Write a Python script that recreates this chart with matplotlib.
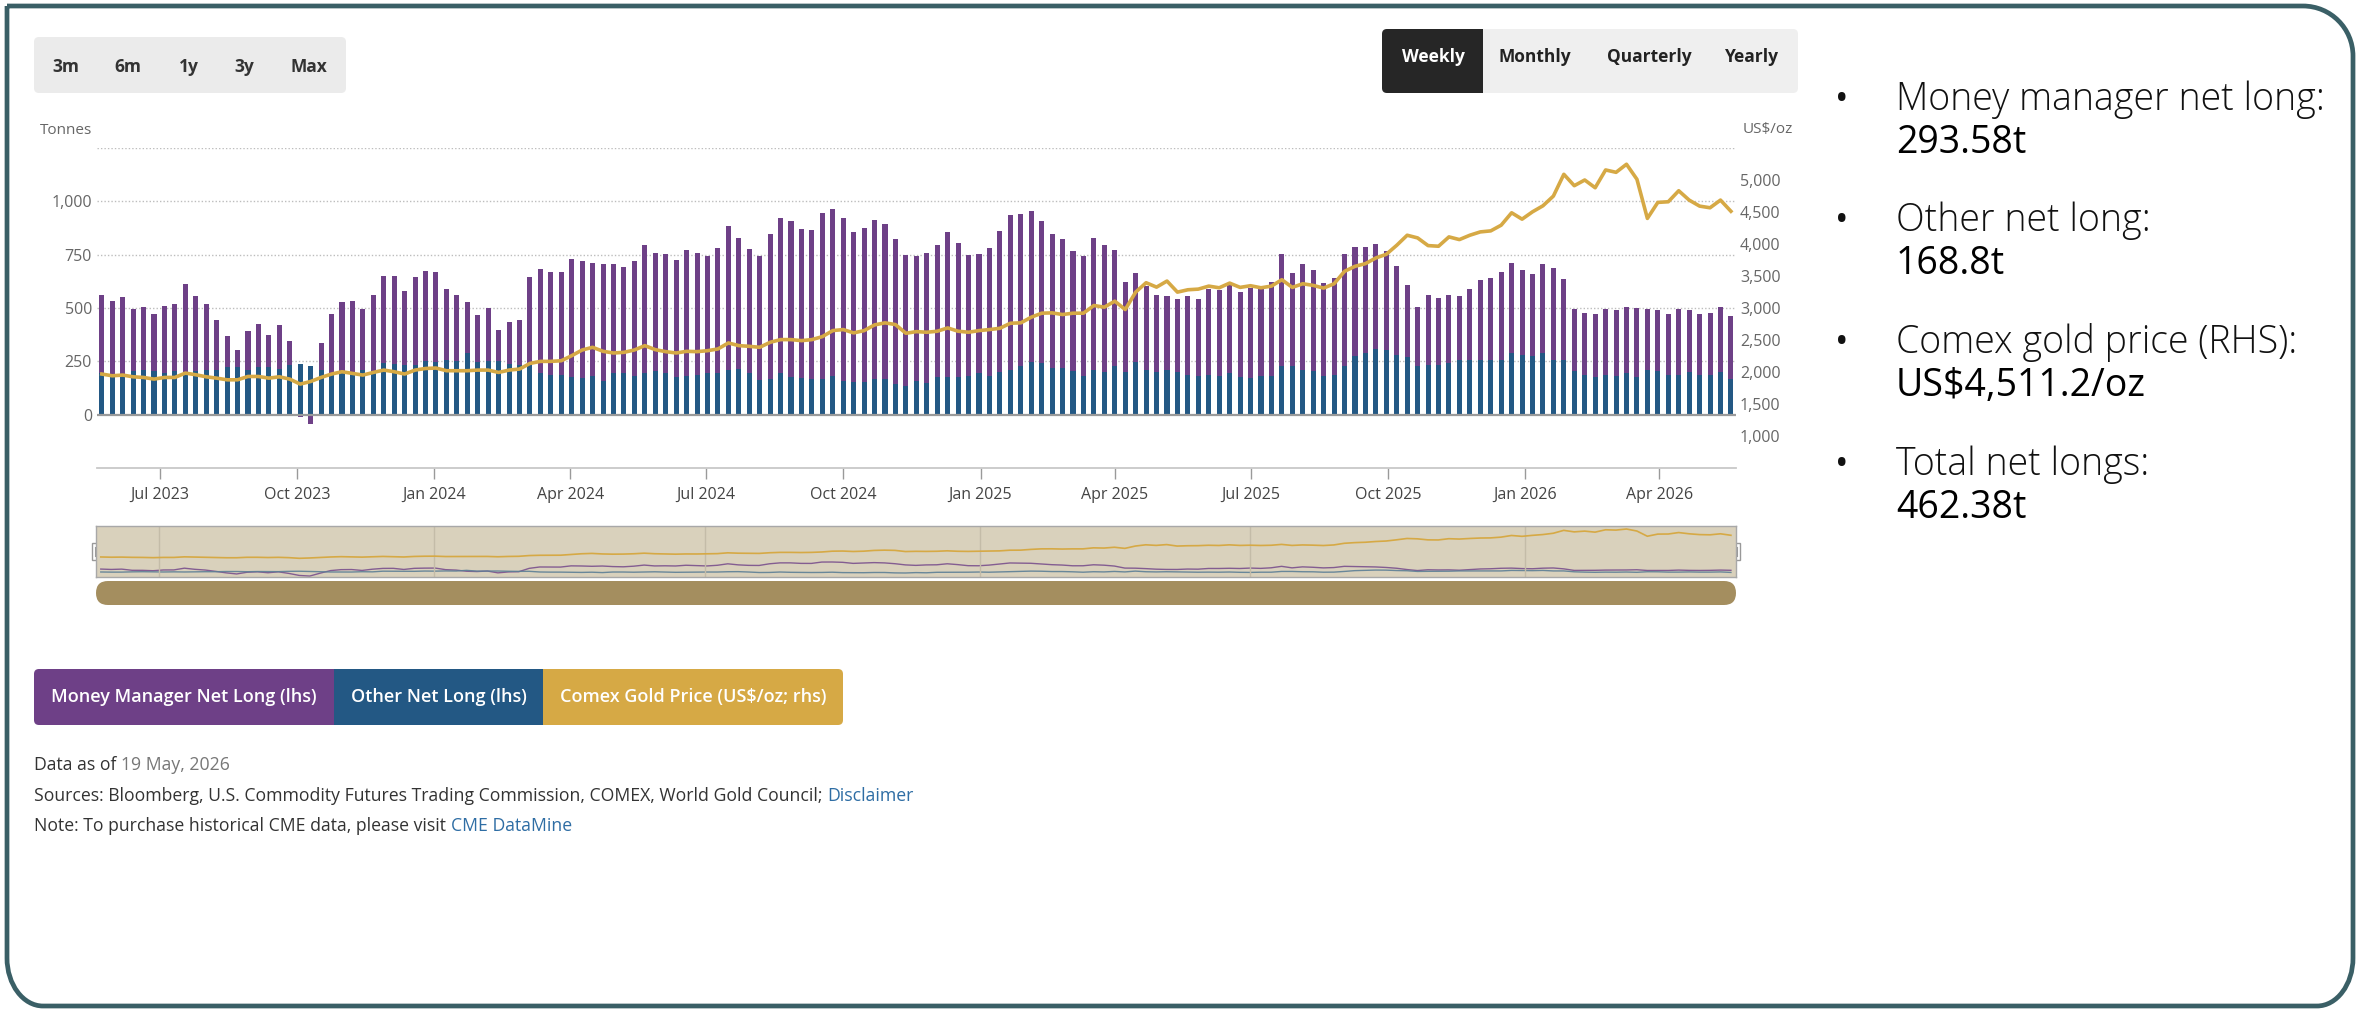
import matplotlib
matplotlib.use('Agg')
import matplotlib.pyplot as plt
import matplotlib.dates as mdates
from matplotlib.patches import FancyBboxPatch, Rectangle, PathPatch
from matplotlib.path import Path
from matplotlib.ticker import FuncFormatter
import numpy as np
import pandas as pd

plt.rcParams['font.family'] = ['Open Sans', 'DejaVu Sans']

# weekly COT report dates (Tuesdays)
weeks = pd.date_range('2023-05-23', '2026-05-19', freq='7D')

# Money manager net long (t)
mm_net = [367, 344, 363, 294, 292, 270, 313, 317, 419, 352,
          309, 231, 144, 79, 180, 205, 151, 204, 111, -9,
          -44, 126, 278, 332, 339, 286, 359, 406, 409, 344,
          410, 422, 425, 332, 307, 239, 221, 250, 144, 198,
          211, 409, 489, 484, 484, 555, 548, 530, 546, 513,
          500, 536, 601, 551, 559, 548, 591, 570, 550, 589,
          676, 614, 584, 579, 678, 731, 731, 701, 699, 779,
          782, 763, 701, 724, 746, 729, 682, 612, 584, 611,
          618, 678, 629, 566, 561, 600, 661, 725, 714, 707,
          667, 625, 603, 560, 561, 619, 595, 544, 424, 419,
          393, 360, 345, 343, 368, 360, 402, 401, 413, 400,
          425, 407, 441, 527, 438, 496, 472, 436, 455, 527,
          514, 497, 491, 461, 415, 338, 279, 325, 314, 319,
          298, 332, 372, 385, 413, 423, 396, 385, 419, 431,
          379, 288, 291, 294, 307, 307, 313, 326, 284, 283,
          285, 307, 290, 285, 291, 307, 293.58]

# Other net long (t)
other_net = [195, 187, 187, 203, 211, 203, 195, 203, 195, 203,
             211, 211, 223, 223, 211, 222, 222, 216, 233, 239,
             227, 211, 195, 195, 192, 211, 203, 242, 239, 234,
             234, 250, 245, 257, 252, 291, 246, 252, 252, 238,
             231, 234, 195, 187, 187, 176, 170, 182, 160, 193,
             193, 182, 193, 206, 193, 176, 182, 187, 193, 193,
             210, 215, 193, 164, 168, 193, 176, 170, 165, 168,
             182, 159, 153, 153, 165, 165, 142, 136, 159, 148,
             176, 176, 176, 182, 193, 182, 199, 210, 227, 246,
             240, 221, 221, 206, 182, 210, 199, 227, 199, 246,
             210, 199, 210, 199, 187, 182, 187, 182, 193, 176,
             170, 182, 182, 227, 227, 210, 206, 182, 187, 227,
             274, 291, 308, 304, 280, 268, 227, 234, 234, 240,
             257, 257, 257, 257, 257, 287, 280, 274, 287, 257,
             257, 206, 187, 176, 187, 182, 193, 176, 210, 206,
             187, 187, 199, 187, 187, 199, 168.8]

# Comex gold price (US$/oz, rhs)
gold = [1968, 1941, 1952, 1925, 1915, 1889, 1915, 1915, 1983, 1957,
        1925, 1904, 1878, 1878, 1930, 1930, 1904, 1925, 1889, 1811,
        1852, 1915, 1968, 2004, 1978, 1952, 1993, 2030, 2004, 1968,
        2030, 2055, 2062, 2020, 2020, 2020, 2030, 2030, 1993, 2030,
        2046, 2134, 2166, 2166, 2176, 2255, 2344, 2386, 2323, 2297,
        2307, 2344, 2412, 2349, 2318, 2297, 2323, 2318, 2333, 2360,
        2454, 2412, 2401, 2386, 2464, 2506, 2506, 2490, 2506, 2553,
        2647, 2663, 2611, 2647, 2736, 2768, 2741, 2605, 2631, 2621,
        2637, 2689, 2637, 2621, 2647, 2663, 2683, 2762, 2768, 2856,
        2919, 2924, 2898, 2919, 2919, 3039, 3013, 3107, 2976, 3248,
        3395, 3326, 3421, 3248, 3285, 3295, 3342, 3316, 3389, 3322,
        3348, 3316, 3342, 3442, 3322, 3379, 3353, 3311, 3379, 3573,
        3651, 3693, 3782, 3839, 3980, 4137, 4095, 3975, 3965, 4111,
        4069, 4137, 4189, 4205, 4294, 4488, 4388, 4503, 4597, 4749,
        5089, 4911, 5000, 4879, 5157, 5120, 5246, 5011, 4400, 4650,
        4660, 4832, 4686, 4592, 4566, 4686, 4511.2]

left_ticks = [0, 250, 500, 750, 1000]
right_ticks = [1000, 1500, 2000, 2500, 3000, 3500, 4000, 4500, 5000]
range_buttons = ['3m', '6m', '1y', '3y', 'Max']
freq_buttons = ['Weekly', 'Monthly', 'Quarterly', 'Yearly']
legend_labels = ['Money Manager Net Long (lhs)', 'Other Net Long (lhs)',
                 'Comex Gold Price (US$/oz; rhs)']
side_notes = [('Money manager net long:', '293.58t'),
              ('Other net long:', '168.8t'),
              ('Comex gold price (RHS):', 'US$4,511.2/oz'),
              ('Total net longs:', '462.38t')]

PURPLE = '#6e4087'
BLUE = '#235884'
GOLD = '#d6a945'
TEAL = '#3a5f66'

W, H = 2357, 1011
fig = plt.figure(figsize=(W / 100, H / 100), dpi=100)

# pixel-space overlay for the page furniture
bg = fig.add_axes([0, 0, 1, 1])
bg.set_xlim(0, W)
bg.set_ylim(H, 0)
bg.axis('off')

mm = np.array(mm_net, dtype=float)
oth = np.array(other_net, dtype=float)
xmin = weeks[0] - pd.Timedelta(days=3.2)
xmax = weeks[-1] + pd.Timedelta(days=3.4)

# ---- main chart
ax = fig.add_axes([97 / W, 1 - 468 / H, (1736 - 97) / W, (468 - 148) / H])
ax.set_facecolor('none')
ax.bar(weeks, oth, width=3.4, color=BLUE, zorder=2)
ax.bar(weeks, mm, width=3.4, bottom=np.where(mm >= 0, oth, 0), color=PURPLE, zorder=2)
ax.set_xlim(xmin, xmax)
ax.set_ylim(-250, 1250)
for v in [250, 500, 750, 1000, 1250]:
    ax.axhline(v, color='#bdbdbd', lw=1, ls=(0, (1, 1.5)), zorder=0)
ax.axhline(0, color='#9a9a9a', lw=1.6, zorder=3)
ax.set_yticks(left_ticks)
ax.yaxis.set_major_formatter(FuncFormatter(lambda v, p: f'{v:,.0f}'))
ax.tick_params(axis='y', length=0, pad=3.6, labelsize=11.5, labelcolor='#666666')
ax.xaxis.set_major_locator(mdates.MonthLocator(bymonth=[1, 4, 7, 10]))
ax.xaxis.set_major_formatter(mdates.DateFormatter('%b %Y'))
ax.tick_params(axis='x', length=8, width=1, color='#9a9a9a', pad=5.5,
               labelsize=11.5, labelcolor='#444444')
for s in ['top', 'left', 'right']:
    ax.spines[s].set_visible(False)
ax.spines['bottom'].set_color('#c8c8c8')
ax.spines['bottom'].set_linewidth(1.3)

ax2 = ax.twinx()
ax2.plot(weeks, gold, color=GOLD, lw=2.6, zorder=4)
ax2.set_ylim(500, 5500)
ax2.set_yticks(right_ticks)
ax2.yaxis.set_major_formatter(FuncFormatter(lambda v, p: f'{v:,.0f}'))
ax2.tick_params(axis='y', length=0, pad=2.9, labelsize=11.5, labelcolor='#666666')
for s in ax2.spines.values():
    s.set_visible(False)

bg.text(40, 130, 'Tonnes', fontsize=11, color='#666666', va='center')
bg.text(1793, 130, 'US$/oz', fontsize=11, color='#666666', va='center', ha='right')

# ---- navigator
nav = fig.add_axes([96 / W, 1 - 577 / H, 1640 / W, 51 / H])
nav.set_facecolor('#d9d1bc')
nav.plot(weeks, mm, color=PURPLE, lw=1, alpha=0.8)
nav.plot(weeks, oth, color='#5d7f96', lw=1, alpha=0.9)
nav.set_xlim(xmin, xmax)
nav.set_ylim(-100, 2900)
for d in pd.date_range('2023-07-01', '2026-01-01', freq='6MS'):
    nav.axvline(d, color='#c4bca8', lw=1)
nav.set_xticks([])
nav.set_yticks([])
for s in nav.spines.values():
    s.set_color('#a8a8a8')
    s.set_linewidth(1)
nav2 = nav.twinx()
nav2.plot(weeks, gold, color=GOLD, lw=1.2)
nav2.set_ylim(-380, 5600)
nav2.set_yticks([])
for s in nav2.spines.values():
    s.set_visible(False)

for hx in [96, 1736]:
    bg.add_patch(Rectangle((hx - 4, 543), 8, 17, fc='white', ec='#999999', lw=1, zorder=5))
    bg.plot([hx - 1, hx - 1], [547, 556], color='#999999', lw=0.8, zorder=6)
    bg.plot([hx + 1, hx + 1], [547, 556], color='#999999', lw=0.8, zorder=6)

bg.add_patch(FancyBboxPatch((96, 581), 1640, 24, boxstyle='round,pad=0,rounding_size=12',
                            fc='#a48e5f', ec='none'))

# ---- top buttons
bg.add_patch(FancyBboxPatch((34, 37), 312, 56, boxstyle='round,pad=0,rounding_size=5',
                            fc='#ebebeb', ec='none'))
for lbl, cx in zip(range_buttons, [66, 128, 189, 244, 309]):
    bg.text(cx, 72.5, lbl, ha='center', va='baseline', fontsize=12.5,
            fontweight='bold', color='#333333')

bg.add_patch(FancyBboxPatch((1382, 29), 416, 64, boxstyle='round,pad=0,rounding_size=5',
                            fc='#efefef', ec='none'))
bg.add_patch(FancyBboxPatch((1382, 29), 101, 64, boxstyle='round,pad=0,rounding_size=5',
                            fc='#262626', ec='none'))
bg.add_patch(Rectangle((1472, 29), 11, 64, fc='#262626', ec='none'))
for lbl, cx in zip(freq_buttons, [1433, 1535, 1649, 1752]):
    bg.text(cx, 61.5, lbl, ha='center', va='baseline', fontsize=12.5, fontweight='bold',
            color='white' if lbl == 'Weekly' else '#222222')

# ---- legend
bg.add_patch(FancyBboxPatch((34, 669), 300, 56, boxstyle='round,pad=0,rounding_size=5',
                            fc=PURPLE, ec='none'))
bg.add_patch(Rectangle((320, 669), 14, 56, fc=PURPLE, ec='none'))
bg.add_patch(Rectangle((334, 669), 209, 56, fc=BLUE, ec='none'))
bg.add_patch(FancyBboxPatch((543, 669), 300, 56, boxstyle='round,pad=0,rounding_size=5',
                            fc=GOLD, ec='none'))
bg.add_patch(Rectangle((543, 669), 14, 56, fc=GOLD, ec='none'))
for lbl, cx in zip(legend_labels, [184, 439, 693]):
    bg.text(cx, 697, lbl, ha='center', va='center', fontsize=13,
            fontweight='semibold', color='white')

# ---- footer
LINK = '#2e6da4'
FS = 12.7
t = bg.text(34, 765, 'Data as of ', fontsize=FS, color='#333333', va='center')
bg.annotate('19 May, 2026', xy=(1, 0), xycoords=t, va='bottom', fontsize=FS, color='#777777')
t = bg.text(34, 796, 'Sources: Bloomberg, U.S. Commodity Futures Trading Commission, '
            'COMEX, World Gold Council; ', fontsize=FS, color='#333333', va='center')
bg.annotate('Disclaimer', xy=(1, 0), xycoords=t, va='bottom', fontsize=FS, color=LINK)
t = bg.text(34, 826, 'Note: To purchase historical CME data, please visit ',
            fontsize=FS, color='#333333', va='center')
bg.annotate('CME DataMine', xy=(1, 0), xycoords=t, va='bottom', fontsize=FS, color=LINK)

# ---- side notes
for i, (head, val) in enumerate(side_notes):
    y0 = 110 + i * 121.5
    bg.text(1842, y0, '\u2022', ha='center', va='baseline', fontsize=26, color='#111111')
    bg.text(1896, y0, head, va='baseline', fontsize=27, fontweight='light', color='#111111')
    bg.text(1896, y0 + 43, val, va='baseline', fontsize=27, color='#000000')

# ---- outer frame: square top-left, rounded other corners
L, T, R, B = 7, 6, 2353, 1006
k = 0.5523
r1 = 50
rbx, rby = 36, 48
verts = [(L, T), (R - r1, T),
         (R - r1 + k * r1, T), (R, T + r1 - k * r1), (R, T + r1),
         (R, B - rby),
         (R, B - rby + k * rby), (R - rbx + k * rbx, B), (R - rbx, B),
         (L + rbx, B),
         (L + rbx - k * rbx, B), (L, B - rby + k * rby), (L, B - rby),
         (L, T)]
codes = ([Path.MOVETO, Path.LINETO] + [Path.CURVE4] * 3 + [Path.LINETO]
         + [Path.CURVE4] * 3 + [Path.LINETO] + [Path.CURVE4] * 3 + [Path.LINETO])
bg.add_patch(PathPatch(Path(verts, codes), fc='none', ec=TEAL, lw=3.4, capstyle='butt',
                       joinstyle='miter'))

fig.savefig('out.png', dpi=100)
